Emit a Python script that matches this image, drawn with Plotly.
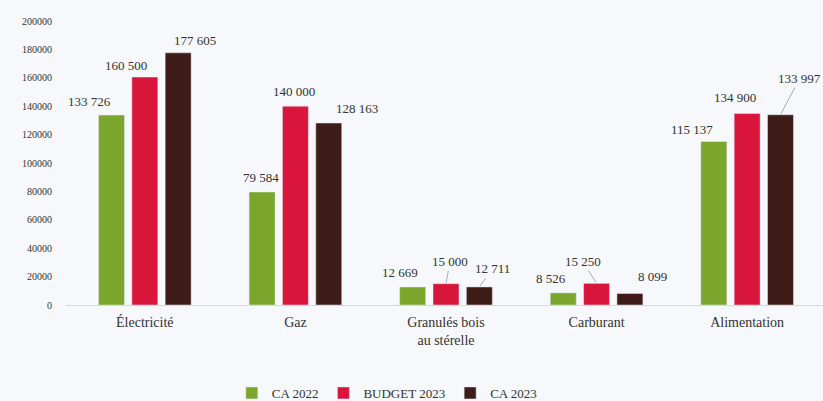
import plotly.graph_objects as go

categories = ["Électricité", "Gaz", "Granulés bois<br>au stérelle", "Carburant", "Alimentation"]
series_names = ["CA 2022", "BUDGET 2023", "CA 2023"]
ca2022 = [133726, 79584, 12669, 8526, 115137]
budget2023 = [160500, 140000, 15000, 15250, 134900]
ca2023 = [177605, 128163, 12711, 8099, 133997]
colors = ["#7aa62c", "#d8163c", "#3e1c18"]
tick_vals = list(range(0, 200001, 20000))

# label placement (pixel offsets of each data label from the top of its bar) and leader-line flags
label_dx = [[-22, -1, -13, -12, -22], [-19, -1, 4, -14, -12], [17, 28, 13, 23, 19]]
label_dy = [[-14, -14, -15, -14, -12], [-12, -15, -22, -22, -16], [-12, -15, -18, -17, -36]]
leader = [[0, 0, 0, 0, 0], [0, 0, 1, 1, 0], [0, 0, 1, 0, 1]]

BARGAP = 0.336
GROUPGAP = 0.22

def fmt(v):
    return f"{v:,}".replace(",", " ")

fig = go.Figure()
series = [ca2022, budget2023, ca2023]
for name, vals, col in zip(series_names, series, colors):
    fig.add_trace(go.Bar(x=categories, y=vals, name=name, marker_color=col))

slot = (1 - BARGAP) / len(series)
for k, vals in enumerate(series):
    for i, v in enumerate(vals):
        fig.add_annotation(
            x=i + (k - 1) * slot, y=v, xref="x", yref="y",
            text=fmt(v), showarrow=True, arrowhead=0, arrowwidth=1,
            arrowcolor="#9aaec4" if leader[k][i] else "rgba(0,0,0,0)",
            ax=label_dx[k][i], ay=label_dy[k][i], standoff=1,
            font=dict(family="Liberation Serif", size=13, color="#333333"),
        )

fig.update_layout(
    width=823, height=401,
    barmode="group", bargap=BARGAP, bargroupgap=GROUPGAP,
    paper_bgcolor="#f6f8fb", plot_bgcolor="#f6f8fb",
    margin=dict(l=66, r=0, t=21, b=96),
    font=dict(family="Liberation Serif", color="#333333"),
    legend=dict(orientation="h", xref="container", yref="container", x=0.47, xanchor="center",
                y=0.02, yanchor="middle",
                font=dict(size=13, color="#333333"), itemwidth=30, traceorder="normal"),
    showlegend=True,
)
fig.update_yaxes(range=[0, 200000], tickvals=tick_vals, ticktext=[str(v) for v in tick_vals],
                 showgrid=False, zeroline=False, showline=False,
                 tickfont=dict(family="Liberation Serif", size=10, color="#333333"), ticklabelstandoff=13)
fig.update_xaxes(showline=True, linecolor="#d9d9d9", linewidth=1,
                 ticks="outside", ticklen=4, tickcolor="rgba(0,0,0,0)",
                 tickfont=dict(family="Liberation Serif", size=14, color="#333333"))

fig.write_html("out.html", config={"displayModeBar": False},
               post_script="document.body.style.margin='0';document.body.style.overflow='hidden';")
